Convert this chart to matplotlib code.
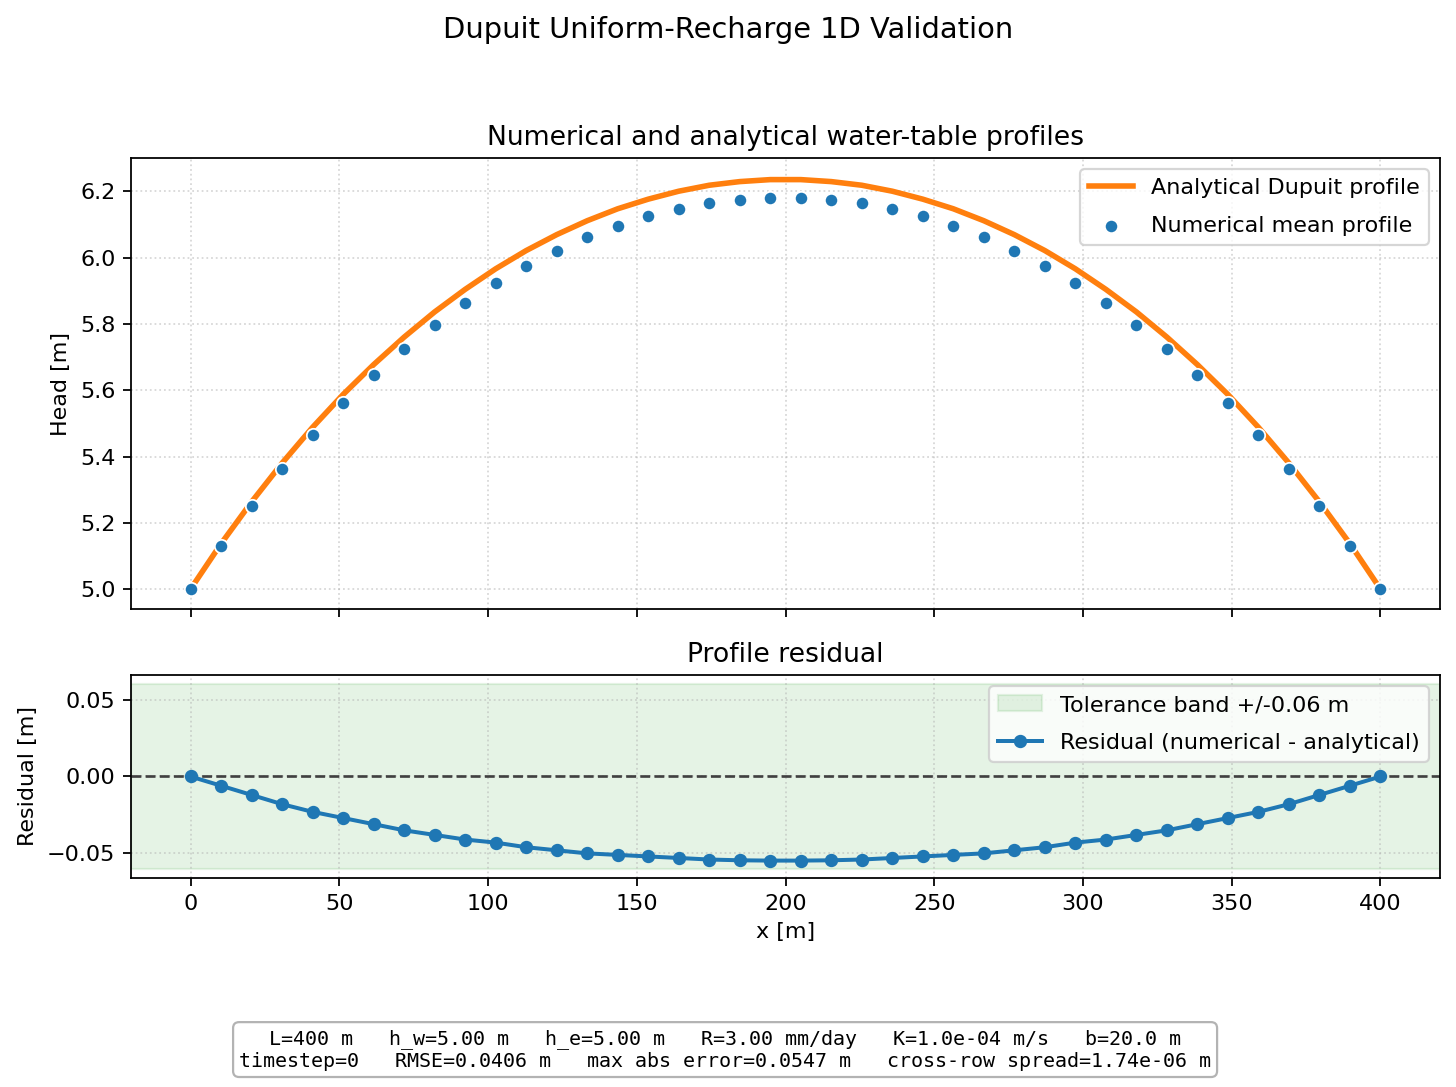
import numpy as np
import matplotlib
matplotlib.use("Agg")
import matplotlib.pyplot as plt

# profile data
x = np.linspace(0, 400, 40)

analytical = [5.000, 5.137, 5.263, 5.380, 5.488, 5.587, 5.677, 5.760, 5.836, 5.904,
              5.966, 6.021, 6.069, 6.111, 6.147, 6.176, 6.200, 6.218, 6.229, 6.235,
              6.235, 6.229, 6.218, 6.200, 6.176, 6.147, 6.111, 6.069, 6.021, 5.966,
              5.904, 5.836, 5.760, 5.677, 5.587, 5.488, 5.380, 5.263, 5.137, 5.000]

numerical = [5.000, 5.131, 5.251, 5.362, 5.465, 5.560, 5.646, 5.725, 5.798, 5.863,
             5.922, 5.975, 6.021, 6.061, 6.096, 6.125, 6.147, 6.164, 6.175, 6.181,
             6.181, 6.175, 6.164, 6.147, 6.125, 6.096, 6.061, 6.021, 5.975, 5.922,
             5.863, 5.798, 5.725, 5.646, 5.560, 5.465, 5.362, 5.251, 5.131, 5.000]

residual = [0.000, -0.006, -0.012, -0.018, -0.023, -0.027, -0.031, -0.035, -0.038, -0.041,
            -0.043, -0.046, -0.048, -0.050, -0.051, -0.052, -0.053, -0.054, -0.0545, -0.0547,
            -0.0547, -0.0545, -0.054, -0.053, -0.052, -0.051, -0.050, -0.048, -0.046, -0.043,
            -0.041, -0.038, -0.035, -0.031, -0.027, -0.023, -0.018, -0.012, -0.006, 0.000]

tol = 0.06

info = ("L=400 m   h_w=5.00 m   h_e=5.00 m   R=3.00 mm/day   K=1.0e-04 m/s   b=20.0 m\n"
        "timestep=0   RMSE=0.0406 m   max abs error=0.0547 m   cross-row spread=1.74e-06 m")

fig = plt.figure(figsize=(1456 / 160, 1087 / 160), dpi=160)
ax1 = fig.add_axes([0.090, 0.4397, 0.899, 0.4149])
ax2 = fig.add_axes([0.090, 0.1923, 0.899, 0.1867], sharex=ax1)

# top: profiles
ax1.plot(x, analytical, color="tab:orange", lw=2.5, label="Analytical Dupuit profile", zorder=2)
ax1.scatter(x, numerical, s=36, color="tab:blue", edgecolor="white", linewidth=0.8,
            label="Numerical mean profile", zorder=3)
ax1.set_ylim(4.94, 6.30)
ax1.set_ylabel("Head [m]")
ax1.set_title("Numerical and analytical water-table profiles")
ax1.grid(True, linestyle=":", alpha=0.5)
ax1.legend(loc="upper right", labelspacing=0.8)
plt.setp(ax1.get_xticklabels(), visible=False)

# bottom: residual
ax2.axhspan(-tol, tol, color="tab:green", alpha=0.12, label="Tolerance band +/-0.06 m")
ax2.axhline(0, color="0.25", linestyle="--", lw=1.2)
ax2.plot(x, residual, marker="o", ms=5, color="tab:blue", lw=1.8,
         label="Residual (numerical - analytical)")
ax2.set_ylim(-0.066, 0.066)
ax2.set_xlim(-20, 420)
ax2.set_ylabel("Residual [m]")
ax2.set_xlabel("x [m]")
ax2.set_title("Profile residual")
ax2.grid(True, linestyle=":", alpha=0.5)
ax2.legend(loc="upper right", labelspacing=0.8)

fig.suptitle("Dupuit Uniform-Recharge 1D Validation", fontsize=13, y=0.985)
fig.text(0.498, 0.034, info, ha="center", va="center", family="monospace", fontsize=9,
         bbox=dict(boxstyle="round,pad=0.3", facecolor="white", edgecolor="0.7"))

fig.savefig("out.png", dpi=160)
